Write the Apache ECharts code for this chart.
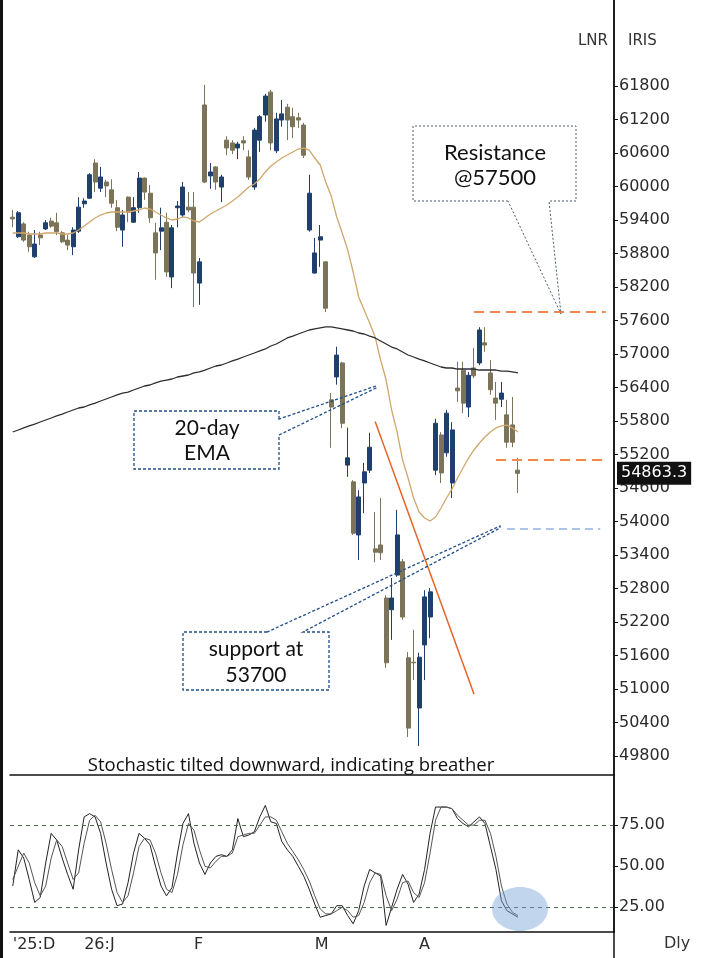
<!DOCTYPE html>
<html>
<head>
<meta charset="utf-8">
<title>LNR IRIS daily</title>
<script src="https://cdn.jsdelivr.net/npm/echarts@6/dist/echarts.min.js"></script>
<style>
  html, body { margin: 0; padding: 0; background: #fff; }
  #chart { width: 707px; height: 958px; }
</style>
</head>
<body>
<div id="chart"></div>
<script>
  // daily candles, [open, close, low, high]
  const ohlc = [
    [59450, 59420, 59270, 59580], [59100, 59530, 59080, 59560], [59330, 59040, 59010, 59360],
    [59130, 58920, 58830, 59190], [58740, 58970, 58720, 59220], [59130, 59080, 58950, 59190],
    [59240, 59350, 59220, 59400], [59380, 59290, 59260, 59440], [59350, 59190, 59130, 59530],
    [59170, 59010, 58990, 59200], [59040, 58950, 58860, 59130], [58920, 59220, 58770, 59270],
    [59200, 59630, 59170, 59810], [59690, 59740, 59620, 59790], [59790, 60210, 59780, 60240],
    [60420, 60080, 59900, 60490], [59970, 60170, 59900, 60350], [60080, 60010, 59810, 60120],
    [59940, 59700, 59620, 60130], [59620, 59270, 59200, 59760], [59220, 59490, 58920, 59580],
    [59810, 59540, 59360, 59820], [59360, 59620, 59350, 59810], [59620, 60150, 59530, 60260],
    [60150, 59900, 59760, 60160], [59880, 59440, 59350, 60030], [59170, 58810, 58330, 59350],
    [59200, 59260, 58860, 59620], [59360, 58470, 58380, 59530], [58380, 59260, 58180, 59310],
    [59620, 59650, 59270, 59740], [59490, 59990, 59450, 60080], [59630, 59580, 59540, 59900],
    [59630, 58450, 57840, 59900], [58270, 58650, 57880, 58720], [61460, 60080, 60060, 61820],
    [60190, 60260, 59960, 60420], [60350, 60080, 59940, 60360], [59990, 60170, 59720, 60210],
    [60830, 60690, 60560, 60900], [60780, 60650, 60580, 60830], [60690, 60760, 60490, 60800],
    [60820, 60780, 60650, 60900], [60530, 60170, 60120, 60650], [59990, 61010, 59940, 61050],
    [60830, 61250, 60620, 61280], [61280, 61620, 61160, 61660], [61690, 60780, 60650, 61730],
    [60640, 61210, 60600, 61320], [61190, 61300, 61070, 61550], [61420, 61190, 60830, 61480],
    [61250, 61070, 60870, 61410], [61230, 61190, 61050, 61320], [61100, 60560, 60510, 61140],
    [59220, 59880, 59190, 60210], [58450, 58810, 58440, 59080], [59040, 59100, 58560, 59310],
    [58650, 57820, 57750, 58660], [56180, 56050, 55320, 56300], [56590, 56980, 56450, 57130],
    [56840, 55760, 55670, 56860], [55010, 55140, 54800, 55680], [54710, 53790, 53760, 54740],
    [53760, 54440, 53310, 54560], [54690, 54890, 54150, 55050], [54920, 55330, 54870, 55590],
    [53510, 53450, 53270, 54170], [53580, 53440, 53310, 54420], [52630, 51470, 51380, 52680],
    [52420, 52630, 51880, 52990], [53040, 53760, 53010, 54210], [53280, 52290, 52240, 53330],
    [51560, 50300, 50140, 51660], [51480, 51470, 51160, 52060], [50660, 51570, 49980, 51650],
    [51790, 52650, 51160, 52770], [52290, 52740, 51910, 52810], [54920, 55760, 54830, 55840],
    [55550, 54870, 54690, 55600], [55230, 55940, 55160, 56000], [54690, 55640, 54420, 55780],
    [56390, 56340, 56140, 56860], [56710, 56120, 55940, 56860], [56050, 56620, 55870, 56680],
    [56750, 56610, 56570, 57110], [56840, 57430, 56800, 57480], [57200, 57160, 57040, 57480],
    [56660, 56360, 56270, 56890], [56210, 56120, 55820, 56500], [56190, 56300, 56050, 56500],
    [55910, 55420, 55320, 56180], [55730, 55420, 55330, 56230], [54920, 54863.3, 54510, 55140]
  ]

  const ema20 = [
    59167, 59167, 59167, 59149, 59149, 59149, 59167, 59167, 59167, 59149, 59149, 59167,
    59221, 59292, 59364, 59436, 59489, 59525, 59543, 59543, 59543, 59543, 59561, 59579,
    59615, 59597, 59543, 59489, 59436, 59400, 59418, 59454, 59436, 59382, 59364, 59436,
    59507, 59561, 59615, 59669, 59740, 59812, 59901, 59991, 60045, 60134, 60260, 60367,
    60439, 60510, 60564, 60618, 60671, 60689, 60653, 60510, 60385, 60080, 59830, 59454,
    59167, 58862, 58468, 58021, 57788, 57555, 57304, 56892, 56534, 55997, 55603, 55101,
    54779, 54421, 54170, 54063, 54009, 54081, 54242, 54421, 54582, 54779, 54958, 55137,
    55281, 55406, 55513, 55603, 55675, 55711, 55728, 55675, 55603
  ]

  const longMa = [
    55603, 55639, 55675, 55711, 55746, 55782, 55818, 55854, 55890, 55925, 55961, 55997,
    56033, 56051, 56087, 56122, 56158, 56194, 56230, 56266, 56301, 56319, 56355, 56391,
    56427, 56445, 56481, 56516, 56534, 56552, 56588, 56606, 56624, 56660, 56678, 56713,
    56749, 56785, 56803, 56839, 56875, 56910, 56946, 56982, 57018, 57054, 57090, 57143,
    57179, 57233, 57287, 57322, 57358, 57394, 57430, 57448, 57466, 57484, 57484, 57466,
    57448, 57430, 57412, 57376, 57358, 57322, 57287, 57233, 57179, 57125, 57090, 57036,
    56982, 56946, 56910, 56875, 56839, 56803, 56767, 56749, 56749, 56731, 56731, 56731,
    56731, 56713, 56713, 56713, 56713, 56695, 56695, 56678, 56660
  ]

  const stochK = [
    38, 60, 55, 42, 28, 31, 52, 70, 66, 55, 45, 36,
    60, 80, 82, 80, 70, 52, 36, 26, 27, 40, 58, 70,
    67, 63, 50, 38, 32, 37, 58, 76, 82, 64, 52, 45,
    52, 56, 57, 56, 60, 79, 68, 69, 71, 80, 87, 77,
    76, 65, 60, 56, 50, 44, 36, 27, 19, 20, 21, 26,
    26, 20, 15, 23, 38, 48, 46, 44, 14, 25, 36, 45,
    39, 28, 33, 48, 70, 86, 86, 86, 85, 79, 76, 74,
    77, 80, 76, 62, 48, 29, 23, 21, 19
  ]

  const stochD = [
    42, 50, 58, 52, 40, 32, 38, 55, 66, 62, 52, 42,
    46, 64, 78, 81, 77, 64, 48, 34, 28, 32, 46, 62,
    67, 66, 58, 46, 36, 34, 45, 63, 76, 72, 60, 50,
    49, 53, 56, 56, 58, 68, 69, 70, 70, 75, 80, 80,
    78, 71, 64, 59, 54, 48, 41, 32, 24, 21, 21, 23,
    25, 23, 19, 20, 28, 40, 46, 45, 32, 23, 30, 40,
    41, 34, 31, 40, 58, 78, 86, 86, 85, 81, 78, 75,
    75, 78, 78, 70, 56, 38, 27, 22, 20
  ]

  const priceTicks = [49800, 50400, 51000, 51600, 52200, 52800, 53400, 54000, 54600, 55200, 55800,
    56400, 57000, 57600, 58200, 58800, 59400, 60000, 60600, 61200, 61800]
  const stochTicks = [25, 50, 75]
  const monthStarts = [0, 13, 33, 55, 74]
  const monthLabels = ["'25:D", '26:J', 'F', 'M', 'A']

  const lastPrice = 54863.3
  const resistLevel = 57752   // dashed line as drawn (callout says 57500)
  const pivotLevel = 55100
  const supportLevel = 53866
  const trendFrom = [66, 55790]
  const trendTo = [84, 50910]

  // 93 trading days plus empty room on the right
  const slots = 110
  const days = []
  for (let i = 0; i < slots; i++) days.push('d' + i)

  const axisFont = { fontFamily: 'DejaVu Sans', fontSize: 16, color: '#2b2b2b' }
  const boxFont = '21px Lato'
  const orange = '#ef8a4c'
  const navy = '#1f4e8c'

  const chart = echarts.init(document.getElementById('chart'))
  chart.setOption({
    animation: false,
    backgroundColor: '#fff',
    grid: [
      { left: 10, right: 93, top: 0, bottom: 183 },
      { left: 10, right: 93, top: 775, bottom: 26 }
    ],
    xAxis: [
      {
        type: 'category', gridIndex: 0, data: days, boundaryGap: true,
        axisLine: { lineStyle: { color: '#111', width: 1.5 } },
        axisTick: { show: false }, axisLabel: { show: false }, splitLine: { show: false }
      },
      {
        type: 'category', gridIndex: 1, data: days, boundaryGap: true,
        axisLine: { lineStyle: { color: '#111', width: 1.5 } },
        axisTick: { show: false },
        axisLabel: Object.assign({
          interval: (i) => monthStarts.indexOf(i) >= 0,
          formatter: (v, i) => monthLabels[monthStarts.indexOf(i)] || '',
          align: 'left', margin: 5
        }, axisFont),
        splitLine: { show: false }
      }
    ],
    yAxis: [
      {
        type: 'value', gridIndex: 0, position: 'right', min: 49460, max: 63340,
        axisLine: { show: true, lineStyle: { color: '#111', width: 1.5 } },
        axisTick: { show: true, length: 4, customValues: priceTicks, lineStyle: { color: '#111' } },
        axisLabel: Object.assign({ customValues: priceTicks, margin: 5, formatter: (v) => String(v) }, axisFont),
        splitLine: { show: false }
      },
      {
        type: 'value', gridIndex: 1, position: 'right', min: 10, max: 105.5,
        axisLine: { show: true, lineStyle: { color: '#111', width: 1.5 } },
        axisTick: { show: true, length: 4, customValues: stochTicks, lineStyle: { color: '#111' } },
        axisLabel: Object.assign({ customValues: stochTicks, margin: 5, formatter: (v) => v.toFixed(2) }, axisFont),
        splitLine: { show: false }
      }
    ],
    series: [
      {
        name: 'IRIS', type: 'candlestick', xAxisIndex: 0, yAxisIndex: 0,
        data: ohlc, barWidth: 4.5,
        itemStyle: {
          color: '#1f3f6d', color0: '#7b7458',
          borderColor: '#1f3f6d', borderColor0: '#7b7458', borderWidth: 1
        },
        markLine: {
          silent: true, symbol: ['none', 'none'], animation: false,
          label: { show: false },
          data: [
            [{ coord: [84, resistLevel], lineStyle: { color: orange, width: 2, type: [10, 6] } }, { coord: [108, resistLevel] }],
            [{ coord: [88, pivotLevel], lineStyle: { color: orange, width: 2, type: [10, 6] } }, { coord: [108, pivotLevel] }],
            [{ coord: [90, supportLevel], lineStyle: { color: '#8fb3e0', width: 1.5, type: [8, 5] } }, { coord: [107, supportLevel] }],
            [{ coord: trendFrom, lineStyle: { color: '#e4652a', width: 1.5, type: 'solid' } }, { coord: trendTo }],
            {
              yAxis: lastPrice, lineStyle: { color: 'rgba(0,0,0,0)', width: 1 },
              label: {
                show: true, position: 'end', distance: 3, formatter: '54863.3',
                color: '#fff', backgroundColor: '#111', padding: [4, 4, 3, 4],
                fontFamily: 'DejaVu Sans', fontSize: 16
              }
            }
          ]
        }
      },
      {
        name: 'EMA20', type: 'line', xAxisIndex: 0, yAxisIndex: 0, data: ema20,
        symbol: 'none', lineStyle: { color: '#cfa76c', width: 1.3 }, z: 3
      },
      {
        name: 'MA', type: 'line', xAxisIndex: 0, yAxisIndex: 0, data: longMa,
        symbol: 'none', lineStyle: { color: '#2e2e2e', width: 1.3 }, z: 3
      },
      {
        name: '%K', type: 'line', xAxisIndex: 1, yAxisIndex: 1, data: stochK,
        symbol: 'none', lineStyle: { color: '#222', width: 1 },
        markLine: {
          silent: true, symbol: ['none', 'none'], animation: false, label: { show: false },
          lineStyle: { color: '#4c6a52', width: 1, type: [4, 4] },
          data: [{ yAxis: 75 }, { yAxis: 25 }]
        }
      },
      {
        name: '%D', type: 'line', xAxisIndex: 1, yAxisIndex: 1, data: stochD,
        symbol: 'none', lineStyle: { color: '#555', width: 1 }
      }
    ],
    graphic: [
      { type: 'line', z: 50, shape: { x1: 1.5, y1: 0, x2: 1.5, y2: 958 }, style: { stroke: '#111', lineWidth: 3 } },
      { type: 'line', z: 50, shape: { x1: 614, y1: 0, x2: 614, y2: 958 }, style: { stroke: '#111', lineWidth: 1.5 } },
      { type: 'text', z: 50, style: { text: 'LNR', x: 578, y: 41, fill: '#333', font: '15px "DejaVu Sans"', textVerticalAlign: 'middle', verticalAlign: 'middle' } },
      { type: 'text', z: 50, style: { text: 'IRIS', x: 628, y: 41, fill: '#333', font: '15px "DejaVu Sans"', textVerticalAlign: 'middle', verticalAlign: 'middle' } },
      { type: 'text', z: 50, style: { text: 'Dly', x: 664, y: 944, fill: '#333', font: '16px "DejaVu Sans"', textVerticalAlign: 'middle', verticalAlign: 'middle' } },
      {
        type: 'text', z: 50,
        style: {
          text: 'Stochastic tilted downward, indicating breather', x: 291, y: 766,
          fill: '#111', font: '18.5px "Open Sans"',
          textAlign: 'center', align: 'center', textVerticalAlign: 'middle', verticalAlign: 'middle'
        }
      },
      { type: 'ellipse', z: 50, shape: { cx: 520, cy: 909, rx: 28, ry: 22 }, style: { fill: 'rgba(118,162,214,0.45)' } },
      // resistance callout
      {
        type: 'polygon', z: 50,
        shape: { points: [[508, 201], [413, 201], [413, 126], [576, 126], [576, 201], [549, 201], [561, 314]] },
        style: { fill: 'none', stroke: '#4d5b6e', lineWidth: 1, lineDash: [2, 2] }
      },
      {
        type: 'text', z: 50,
        style: {
          text: 'Resistance\n@57500', x: 495, y: 165, fill: '#111', font: '22px Lato', lineHeight: 25,
          textAlign: 'center', align: 'center', textVerticalAlign: 'middle', verticalAlign: 'middle'
        }
      },
      // 20-day EMA callout
      {
        type: 'polygon', z: 50,
        shape: { points: [[279, 419], [279, 411], [134, 411], [134, 469], [279, 469], [279, 435], [376, 388], [376, 386]] },
        style: { fill: 'none', stroke: navy, lineWidth: 1.3, lineDash: [3, 2] }
      },
      {
        type: 'text', z: 50,
        style: {
          text: '20-day\nEMA', x: 207, y: 441, fill: '#111', font: boxFont, lineHeight: 25,
          textAlign: 'center', align: 'center', textVerticalAlign: 'middle', verticalAlign: 'middle'
        }
      },
      // support callout
      {
        type: 'polygon', z: 50,
        shape: { points: [[267, 632], [183, 632], [183, 690], [329, 690], [329, 632], [303, 632], [500, 528], [500, 526]] },
        style: { fill: 'none', stroke: navy, lineWidth: 1.3, lineDash: [3, 2] }
      },
      {
        type: 'text', z: 50,
        style: {
          text: 'support at\n53700', x: 256, y: 662, fill: '#111', font: boxFont, lineHeight: 26,
          textAlign: 'center', align: 'center', textVerticalAlign: 'middle', verticalAlign: 'middle'
        }
      }
    ]
  })
</script>
</body>
</html>
